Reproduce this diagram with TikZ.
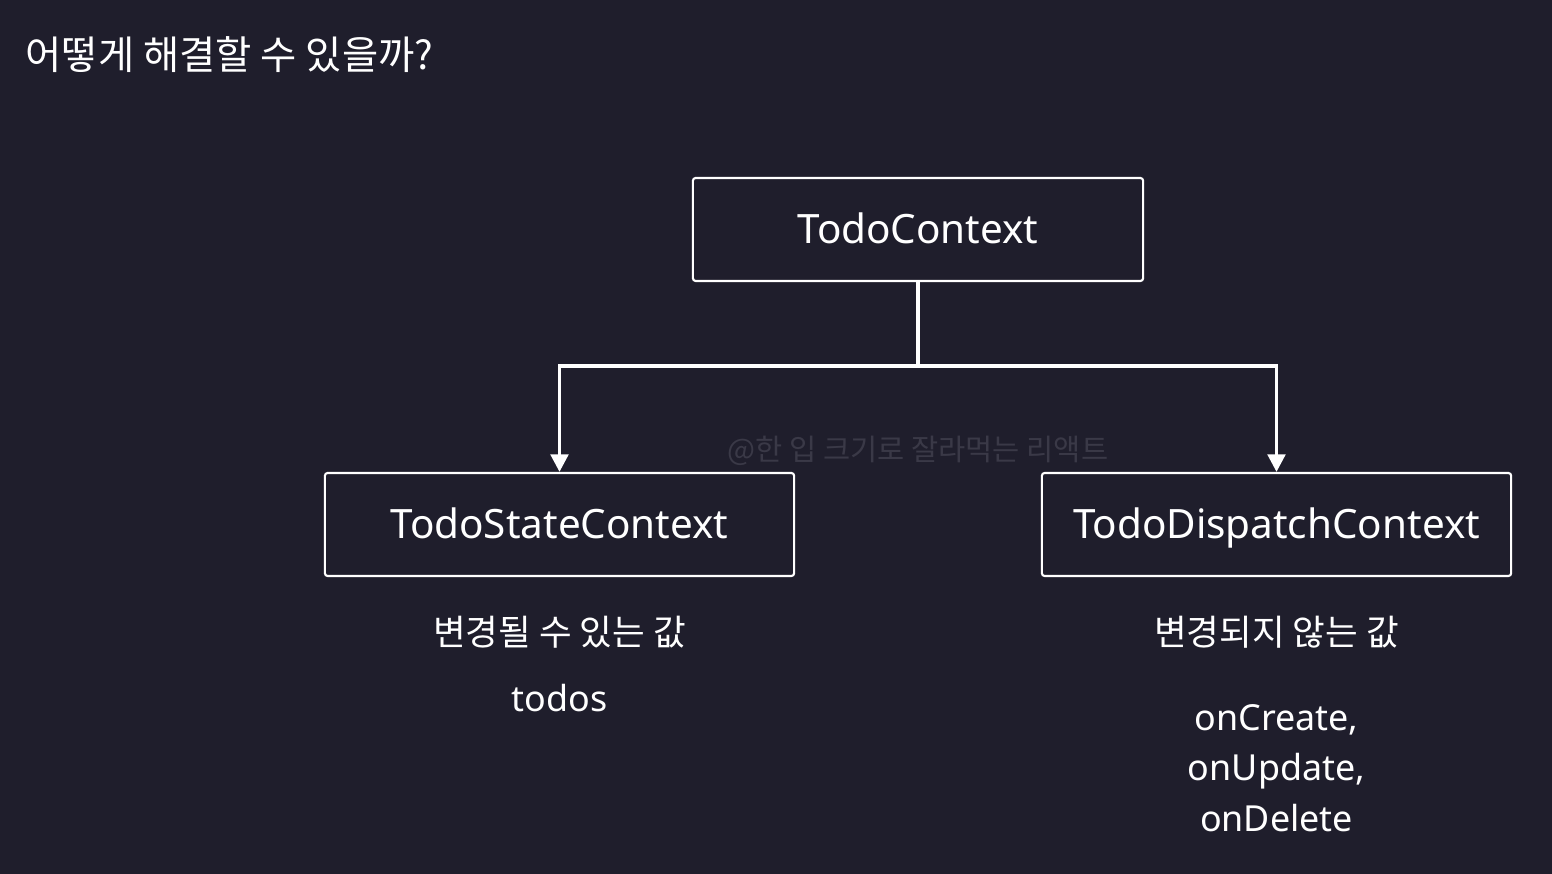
\documentclass[tikz,border=0pt]{standalone}
\usepackage{fontspec}
\setmainfont{Noto Sans}
\newfontfamily\kofont{Noto Sans CJK KR}
\usetikzlibrary{arrows.meta}

\definecolor{bgdark}{HTML}{1F1E2C}
\definecolor{markgray}{HTML}{3A3947}

\tikzset{
  ctxbox/.style={draw=white, line width=0.6pt, rounded corners=0.8pt, text=white,
    minimum height=1.03cm, inner sep=0pt, text height=0.8em, text depth=0pt,
    font=\fontsize{11.5}{13}\selectfont},
  note/.style={text=white, font=\kofont\fontsize{10.1}{12}\selectfont},
  member/.style={text=white, align=center, font=\fontsize{10.2}{14.4}\selectfont},
}

\begin{document}
\begin{tikzpicture}[x=0.01cm, y=-0.01cm, >={Triangle[width=5pt, length=5pt]}]
			\fill[bgdark] (0,0) rectangle (1552,874);
			\useasboundingbox (0,0) rectangle (1552,874);

			\node[anchor=west, inner sep=0pt, text=white, font=\kofont\fontsize{11.2}{13}\selectfont] (title) at (25,55) {어떻게 해결할 수 있을까?};

			\node[ctxbox, minimum width=4.5cm] (ctx) at (918,229.5) {TodoContext};
			\node[ctxbox, minimum width=4.69cm] (state) at (559.5,524.5) {TodoStateContext};
			\node[ctxbox, minimum width=4.69cm] (dispatch) at (1276.5,524.5) {TodoDispatchContext};
			\coordinate (split) at (918,366);

			\node[text=markgray, font=\kofont\fontsize{8.4}{10}\selectfont] (mark) at (918,451) {@한 입 크기로 잘라먹는 리액트};

			\node[note] (stateNote) at (559.5,632) {변경될 수 있는 값};
			\node[member] (stateVal) at (559.5,698) {todos};
			\node[note] (dispatchNote) at (1276.5,632) {변경되지 않는 값};
			\node[member] (dispatchVal) at (1276.5,768) {onCreate,\\onUpdate,\\onDelete};

			\draw[white, line width=1pt] (ctx) -- (split);
			\draw[->, white, line width=1pt] (split) -| (state);
			\draw[->, white, line width=1pt] (split) -| (dispatch);
		\end{tikzpicture}
\end{document}
